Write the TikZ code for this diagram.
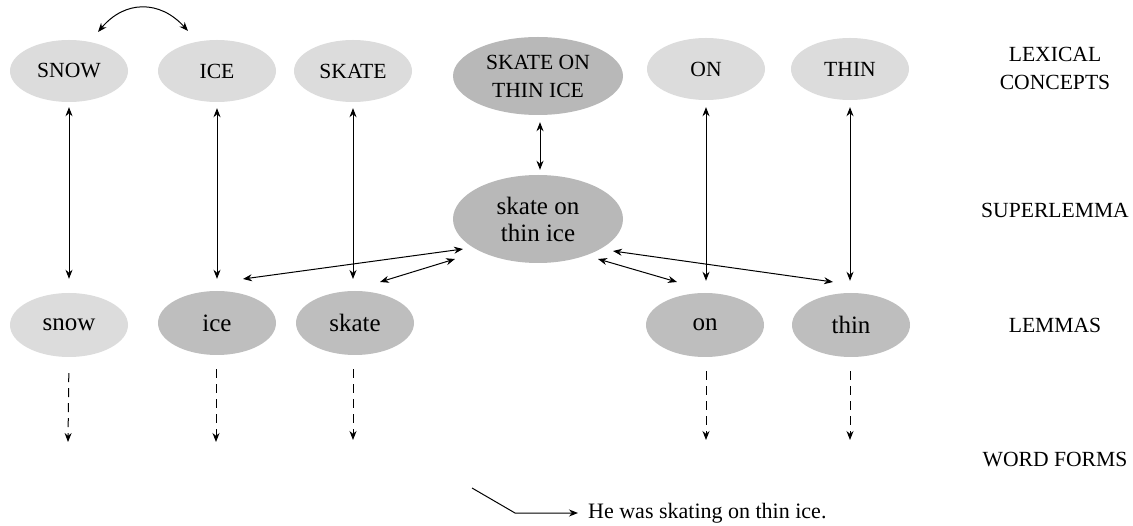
\documentclass[tikz,border=0pt]{standalone}
\usepackage{fontspec}
\setmainfont{Liberation Serif}
\usetikzlibrary{shapes.geometric,arrows.meta}
\definecolor{lightg}{HTML}{DCDCDC}
\definecolor{darkg}{HTML}{B8B8B8}
\definecolor{midg}{HTML}{BEBEBE}
\begin{document}
\begin{tikzpicture}[x=1pt,y=-1pt,
  ell/.style={ellipse,inner sep=0pt,minimum width=118pt,minimum height=62pt,align=center},
  capsfont/.style={font=\fontsize{21.6}{28}\selectfont},
  lowfont/.style={font=\fontsize{25}{27}\selectfont},
  lconc/.style={ell,fill=lightg,capsfont},
  lem/.style={ell,fill=midg,lowfont},
  levlabel/.style={capsfont,align=center},
  dbl/.style={{Stealth[length=9pt,width=7pt]}-{Stealth[length=9pt,width=7pt]},line width=1pt},
  dsh/.style={-{Stealth[length=9pt,width=7pt]},line width=1pt,dash pattern=on 9pt off 6pt}]
\useasboundingbox (0,0) rectangle (1133,526);
% lexical concepts
\node[lconc] (SNOW) at (69,71) {SNOW};
\node[lconc] (ICE) at (217,71) {ICE};
\node[lconc] (SKATE) at (353,71) {SKATE};
\node[ell,fill=darkg,capsfont,minimum width=170pt,minimum height=78pt] (SOTI) at (538,76) {SKATE ON\\THIN ICE};
\node[lconc] (ON) at (706,69) {ON};
\node[lconc] (THIN) at (850,69) {THIN};
% superlemma
\node[ell,fill=darkg,lowfont,minimum width=170pt,minimum height=88pt] (SL) at (538,219) {skate on\\thin ice};
% lemmas
\node[ell,fill=lightg,lowfont,minimum height=64pt] (snow) at (69,325) {snow};
\node[lem,minimum height=64pt] (ice) at (217,323) {ice};
\node[lem,minimum height=64pt] (skate) at (355,323) {skate};
\node[lem,minimum height=64pt] (on) at (705,325) {on};
\node[lem,minimum height=64pt] (thin) at (851,325) {thin};
% level labels
\node[levlabel] (lx) at (1055,68) {LEXICAL\\CONCEPTS};
\node[levlabel] (sup) at (1055,210) {SUPERLEMMA};
\node[levlabel] (lms) at (1055,325) {LEMMAS};
\node[levlabel] (wf) at (1055,460) {WORD FORMS};
% curved arrow SNOW-ICE
\coordinate (c1) at (98,32);
\coordinate (c2) at (188,31);
\draw[dbl] (c1) .. controls (125,0) and (160,0) .. (c2);
% vertical arrows
\draw[dbl,shorten <=5pt,shorten >=14pt] (SNOW.south) -- (snow.north);
\draw[dbl,shorten <=6pt,shorten >=12pt] (ICE.south) -- (ice.north);
\draw[dbl,shorten <=6pt,shorten >=12pt] (SKATE.south -| 353,0) -- (353,291);
\draw[dbl,shorten <=7pt,shorten >=12pt] (ON.south) -- (ON.south |- on.north);
\draw[dbl,shorten <=7pt,shorten >=12pt] (THIN.south) -- (THIN.south |- thin.north);
\draw[dbl,shorten <=7pt,shorten >=5pt] (SOTI.south -| 540,0) -- (SL.north -| 540,0);
% superlemma to lemmas
\coordinate (e1) at (243,279);
\coordinate (e2) at (380,282);
\coordinate (e3) at (677,282);
\coordinate (e4) at (833,282);
\coordinate (s1) at (463,249);
\coordinate (s2) at (455,259);
\coordinate (s3) at (598,259);
\coordinate (s4) at (613,251);
\draw[dbl] (s1) -- (e1);
\draw[dbl] (s2) -- (e2);
\draw[dbl] (s3) -- (e3);
\draw[dbl] (s4) -- (e4);
% dashed arrows to word forms
\coordinate (w1) at (68,442);
\coordinate (w2) at (216,442);
\coordinate (w3) at (353,440);
\coordinate (w4) at (706,440);
\coordinate (w5) at (850,440);
\draw[dsh,shorten <=16pt] (snow.south) -- (w1);
\draw[dsh,shorten <=14pt] (ice.south -| w2) -- (w2);
\draw[dsh,shorten <=14pt] (skate.south -| w3) -- (w3);
\draw[dsh,shorten <=14pt] (on.south -| w4) -- (w4);
\draw[dsh,shorten <=14pt] (thin.south -| w5) -- (w5);
% sentence
\node[anchor=west,font=\fontsize{22}{26}\selectfont,inner sep=0pt] (sent) at (588,513) {He was skating on thin ice.};
\coordinate (p1) at (472,488);
\coordinate (p2) at (515,513);
\draw[line width=1pt,-{Stealth[length=9pt,width=7pt]},shorten >=10pt] (p1) -- (p2) -- (sent.west);
\end{tikzpicture}
\end{document}
